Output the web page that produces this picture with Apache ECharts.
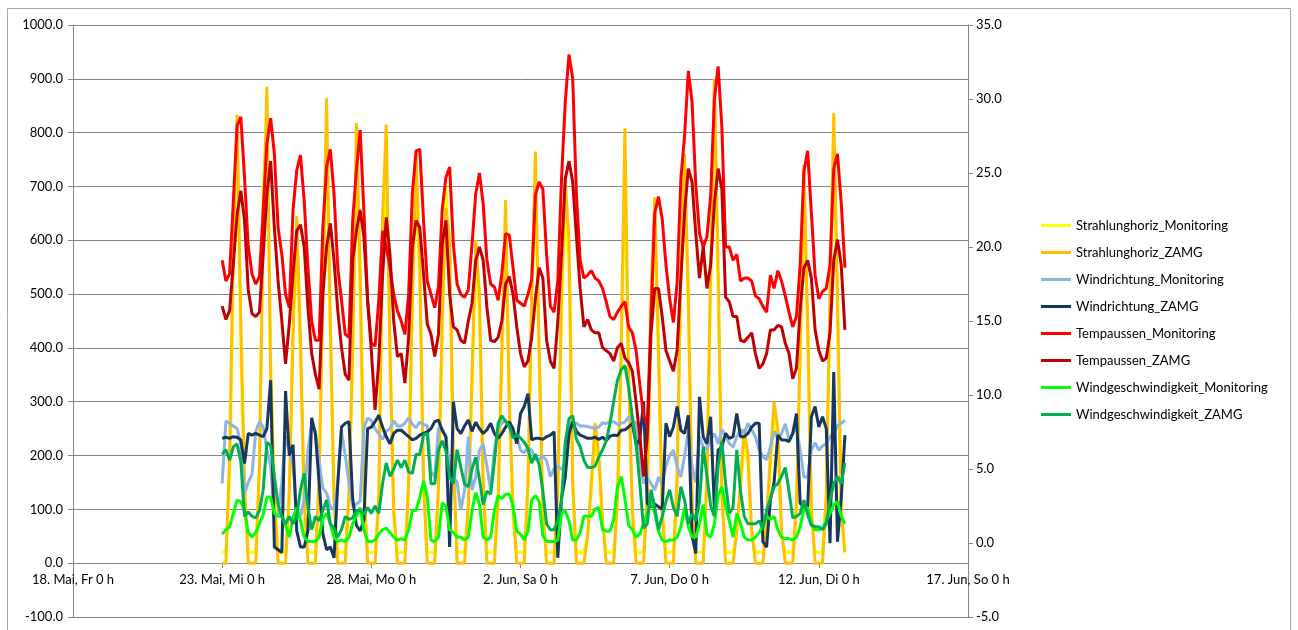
<!DOCTYPE html>
<html>
<head>
<meta charset="utf-8">
<script src="https://cdn.jsdelivr.net/npm/echarts@6.0.0/dist/echarts.min.js"></script>
<style>
  html, body { margin: 0; padding: 0; background: #fff; }
  #chart { width: 1298px; height: 630px; }
</style>
</head>
<body>
<div id="chart"></div>
<script>
// x axis: days since 18 May 0 h, one tick every 5 days
const xTickLabels = ["18. Mai, Fr 0 h", "23. Mai, Mi 0 h", "28. Mai, Mo 0 h", "2. Jun, Sa 0 h",
  "7. Jun, Do 0 h", "12. Jun, Di 0 h", "17. Jun, So 0 h"];
// samples every 3 h, starting 23 May 0 h
const startDay = 5;
const stepDay = 0.125;

const seriesNames = ["Strahlunghoriz_Monitoring", "Strahlunghoriz_ZAMG", "Windrichtung_Monitoring",
  "Windrichtung_ZAMG", "Tempaussen_Monitoring", "Tempaussen_ZAMG",
  "Windgeschwindigkeit_Monitoring", "Windgeschwindigkeit_ZAMG"];
const seriesColors = ["#FFFF00", "#FFC000", "#8DB4E2", "#17375E", "#FF0000", "#C00000", "#00FF00", "#00B050"];

// left axis (W/m², °)
const strahlungMonitoring = [
  20, 20, 150, 550, 780, 400, 120, 20,
  20, 20, 180, 700, 820, 380, 130, 20,
  20, 20, 120, 450, 580, 380, 100, 20,
  20, 20, 150, 500, 780, 420, 110, 20,
  20, 20, 120, 380, 740, 500, 120, 20,
  20, 20, 110, 560, 760, 380, 90, 20,
  20, 20, 140, 480, 700, 520, 140, 20,
  20, 20, 130, 420, 700, 560, 180, 20,
  20, 20, 100, 330, 580, 460, 140, 20,
  20, 20, 110, 380, 620, 300, 90, 20,
  20, 20, 140, 480, 700, 380, 90, 20,
  20, 20, 130, 470, 650, 560, 140, 20,
  20, 20, 50, 140, 230, 180, 70, 20,
  20, 20, 110, 380, 740, 330, 90, 20,
  20, 20, 120, 460, 620, 380, 90, 20,
  20, 20, 150, 520, 700, 470, 110, 20,
  20, 20, 150, 520, 820, 500, 120, 20,
  20, 20, 60, 140, 230, 180, 50, 20,
  20, 20, 80, 180, 270, 220, 50, 20,
  20, 20, 100, 380, 690, 420, 90, 20,
  20, 20, 120, 470, 780, 460, 90, 20
];
const strahlungZamg = [
  0, 0, 200, 600, 833, 450, 150, 0,
  0, 0, 180, 620, 885, 350, 120, 0,
  0, 0, 130, 420, 645, 420, 120, 0,
  0, 0, 160, 500, 864, 450, 120, 0,
  0, 0, 130, 400, 818, 550, 150, 0,
  0, 0, 120, 638, 815, 400, 100, 0,
  0, 0, 150, 500, 760, 550, 150, 0,
  0, 0, 140, 450, 660, 600, 200, 0,
  0, 0, 110, 350, 600, 500, 150, 0,
  0, 0, 120, 400, 675, 300, 100, 0,
  0, 0, 150, 500, 765, 400, 100, 0,
  0, 0, 140, 500, 712, 600, 150, 0,
  0, 0, 50, 150, 260, 200, 80, 0,
  0, 0, 120, 400, 808, 350, 100, 0,
  0, 0, 130, 500, 680, 400, 100, 0,
  0, 0, 160, 550, 760, 500, 120, 0,
  0, 0, 160, 550, 900, 550, 130, 0,
  0, 0, 60, 150, 250, 200, 60, 0,
  0, 0, 80, 200, 300, 250, 60, 0,
  0, 0, 110, 400, 740, 450, 100, 0,
  0, 0, 130, 500, 836, 500, 100, 20
];
const windrichtungMonitoring = [
  148, 264, 260, 255, 250, 222, 130, 150,
  165, 245, 263, 253, 210, 180, 86, 90,
  150, 235, 210, 180, 100, 86, 118, 210,
  258, 245, 190, 140, 130, 105, 100, 150,
  245, 200, 150, 105, 110, 115, 250, 270,
  265, 250, 240, 230, 245, 250, 265, 255,
  255, 260, 270, 258, 252, 262, 258, 255,
  170, 160, 251, 250, 235, 180, 160, 150,
  99, 135, 235, 136, 160, 210, 222, 180,
  136, 210, 252, 260, 266, 255, 235, 235,
  210, 205, 215, 210, 192, 192, 200, 190,
  161, 175, 180, 175, 180, 250, 263, 260,
  255, 255, 254, 252, 250, 253, 261, 259,
  263, 263, 258, 260, 262, 272, 265, 260,
  192, 148, 160, 148, 136, 160, 148, 180,
  200, 210, 180, 160, 200, 245, 180, 150,
  235, 216, 212, 230, 241, 222, 248, 238,
  222, 216, 235, 248, 241, 260, 248, 235,
  210, 198, 192, 216, 245, 232, 241, 259,
  230, 241, 253, 210, 160, 160, 210, 224,
  210, 218, 222, 235, 241, 255, 260, 266
];
const windrichtungZamg = [
  232, 234, 232, 235, 234, 229, 185, 241,
  238, 241, 238, 235, 250, 340, 30, 25,
  20, 320, 200, 220, 60, 30, 30, 60,
  270, 240, 150, 55, 25, 30, 10, 148,
  253, 260, 263, 120, 70, 60, 80, 250,
  253, 263, 275, 253, 235, 222, 241, 247,
  247, 241, 235, 229, 232, 238, 241, 244,
  250, 263, 266, 247, 235, 30, 300, 250,
  241, 255, 266, 245, 262, 250, 241, 248,
  260, 241, 232, 241, 253, 263, 250, 222,
  278, 291, 315, 229, 232, 232, 230, 235,
  238, 244, 10, 120, 160, 240, 263, 245,
  238, 235, 232, 232, 234, 230, 234, 228,
  236, 238, 237, 247, 248, 253, 260, 220,
  230, 300, 110, 105, 110, 105, 100, 260,
  235, 253, 291, 247, 241, 275, 50, 18,
  309, 235, 222, 272, 100, 210, 216, 241,
  232, 235, 278, 235, 235, 241, 253, 260,
  260, 40, 30, 117, 150, 238, 229, 229,
  226, 241, 278, 111, 105, 105, 272, 291,
  253, 272, 250, 37, 355, 40, 120, 238
];

// right axis (°C, m/s)
const tempMonitoring = [
  19.1, 17.7, 18.2, 23.1, 28.2, 28.8, 24.7, 20.0,
  18.2, 17.5, 18.0, 22.5, 27.0, 28.7, 26.3, 21.3,
  19.5, 16.8, 15.9, 22.5, 25.2, 26.2, 23.1, 18.6,
  15.0, 13.7, 13.7, 21.3, 25.4, 26.6, 23.6, 18.6,
  16.4, 14.1, 13.9, 21.8, 25.2, 27.9, 22.5, 16.4,
  13.5, 13.3, 16.4, 21.1, 20.0, 18.6, 16.8, 15.7,
  15.0, 14.1, 16.8, 23.6, 26.5, 26.6, 21.8, 17.7,
  16.8, 15.9, 17.3, 22.5, 24.7, 25.4, 20.2, 17.5,
  16.8, 16.6, 17.1, 20.2, 23.6, 25.0, 22.9, 19.1,
  17.5, 17.3, 16.4, 18.2, 20.9, 20.8, 18.6, 16.4,
  16.2, 16.0, 16.8, 17.8, 23.5, 24.4, 23.9, 19.5,
  16.0, 15.6, 17.7, 24.6, 29.8, 33.0, 31.4, 23.5,
  19.1, 17.9, 18.1, 18.4, 17.9, 17.7, 17.2, 16.3,
  15.3, 15.1, 15.6, 16.0, 16.3, 14.6, 14.2, 13.0,
  10.7, 8.6, 8.0, 15.3, 22.3, 23.4, 21.9, 18.8,
  16.5, 14.9, 17.6, 24.6, 27.5, 31.9, 29.8, 24.2,
  20.9, 20.0, 20.7, 23.5, 30.0, 32.2, 28.1, 20.0,
  20.0, 19.1, 19.5, 17.7, 17.9, 17.9, 17.7, 16.7,
  16.5, 16.0, 15.6, 18.1, 17.2, 18.4, 17.7, 16.7,
  15.6, 14.6, 15.3, 18.8, 25.1, 26.5, 22.3, 18.1,
  16.5, 17.0, 17.2, 18.8, 25.3, 26.3, 23.0, 18.6
];
const tempZamg = [
  16.0, 15.1, 15.7, 18.9, 22.2, 23.8, 21.8, 17.1,
  15.5, 15.3, 15.6, 19.5, 23.6, 25.8, 21.3, 17.7,
  15.0, 12.1, 14.8, 18.2, 21.1, 21.5, 20.0, 15.9,
  12.8, 11.4, 10.4, 16.8, 20.0, 21.6, 19.1, 15.7,
  13.2, 11.4, 11.0, 19.1, 21.1, 22.5, 20.7, 16.4,
  13.0, 9.0, 12.3, 18.0, 22.0, 19.5, 15.0, 12.6,
  12.8, 10.8, 13.9, 20.0, 21.8, 21.3, 18.2, 14.8,
  14.1, 12.6, 14.1, 20.2, 21.8, 16.8, 14.6, 14.4,
  13.7, 13.5, 15.0, 16.2, 19.1, 20.0, 19.1, 15.9,
  13.7, 13.6, 13.9, 15.0, 17.5, 18.0, 16.8, 14.6,
  12.8, 11.9, 12.3, 13.9, 16.5, 18.6, 17.9, 13.7,
  12.3, 11.8, 14.9, 19.5, 24.6, 25.8, 24.4, 20.7,
  17.2, 14.6, 15.1, 14.4, 14.2, 14.2, 13.2, 13.0,
  12.8, 12.3, 13.2, 13.5, 12.5, 12.2, 11.6, 9.5,
  7.2, 4.5, 7.2, 14.2, 17.2, 17.2, 15.3, 13.0,
  12.3, 11.6, 13.0, 17.9, 22.3, 25.3, 24.4, 20.9,
  17.9, 20.0, 17.2, 18.8, 23.0, 25.3, 23.9, 16.6,
  16.3, 15.3, 15.3, 13.7, 13.6, 13.9, 14.2, 12.8,
  11.8, 12.1, 12.8, 14.4, 14.4, 14.7, 14.6, 13.5,
  12.8, 11.1, 11.8, 15.8, 18.6, 19.1, 17.9, 14.4,
  13.0, 12.3, 12.5, 14.2, 19.1, 20.5, 18.8, 14.4
];
const windgeschwMonitoring = [
  0.6, 0.9, 1.1, 2.0, 2.9, 2.8, 2.2, 0.7,
  0.4, 0.7, 1.3, 1.9, 3.1, 3.1, 2.0, 1.8,
  1.8, 1.2, 0.4, 1.7, 2.4, 1.5, 0.4, 0.1,
  0.1, 0.1, 0.4, 1.7, 2.0, 1.3, 0.4, 0.1,
  0.2, 0.1, 0.4, 1.3, 1.8, 2.4, 0.9, 0.1,
  0.1, 0.2, 0.6, 0.9, 1.0, 0.7, 0.4, 0.2,
  0.3, 0.2, 0.9, 2.2, 2.2, 3.1, 4.2, 3.1,
  0.2, 0.1, 0.4, 2.7, 2.5, 0.9, 0.7, 0.4,
  0.4, 0.2, 0.4, 2.2, 3.4, 2.6, 0.4, 0.2,
  0.4, 2.2, 3.2, 3.0, 3.3, 3.3, 2.5, 0.8,
  0.6, 0.2, 0.8, 2.9, 3.2, 2.8, 0.5, 0.1,
  0.1, 0.1, 0.2, 2.0, 2.2, 1.5, 0.2, 0.2,
  0.7, 1.8, 1.8, 1.8, 2.3, 2.4, 0.9, 0.8,
  0.8, 1.6, 3.8, 4.5, 3.0, 1.2, 0.9, 0.4,
  0.6, 1.3, 2.0, 3.0, 2.0, 0.8, 0.2, 0.1,
  0.2, 0.2, 0.4, 1.1, 2.4, 1.1, 0.4, 0.4,
  1.3, 2.6, 0.6, 0.4, 1.3, 3.2, 3.8, 2.5,
  1.5, 0.4, 2.0, 1.3, 0.4, 0.2, 0.2, 0.4,
  0.7, 1.2, 1.8, 1.6, 1.8, 0.9, 0.4, 0.3,
  0.3, 0.2, 0.4, 1.1, 2.3, 2.4, 1.3, 0.9,
  0.9, 1.0, 1.5, 2.0, 2.6, 2.8, 1.8, 1.3
];
const windgeschwZamg = [
  6.0, 6.3, 5.6, 6.5, 6.7, 5.5, 1.8, 2.1,
  1.8, 1.7, 2.2, 3.6, 6.8, 6.6, 4.5, 2.6,
  1.8, 1.3, 1.8, 1.3, 1.8, 3.6, 4.7, 2.4,
  0.9, 1.8, 1.5, 2.2, 2.9, 1.3, 1.0, 0.4,
  0.9, 1.8, 1.6, 1.7, 2.2, 2.2, 1.9, 2.4,
  2.0, 2.5, 2.0, 4.0, 5.4, 4.5, 5.0, 5.6,
  5.1, 5.6, 4.8, 4.7, 6.0, 6.0, 7.3, 7.4,
  4.0, 4.0, 6.3, 6.9, 6.2, 4.5, 4.0, 6.3,
  5.1, 4.0, 3.8, 5.0, 5.8, 4.3, 2.6, 3.5,
  3.3, 5.5, 8.1, 8.6, 8.2, 7.9, 7.1, 7.3,
  7.1, 6.8, 6.4, 5.4, 6.0, 5.3, 3.5, 1.3,
  0.9, 0.9, 1.5, 2.9, 6.8, 8.4, 8.6, 7.0,
  6.5, 5.6, 5.1, 5.1, 5.2, 5.8, 6.3, 6.9,
  8.1, 9.6, 11.0, 11.7, 12.0, 10.5, 8.5, 6.7,
  4.0, 1.0, 1.3, 3.6, 2.4, 0.9, 1.8, 2.8,
  3.6, 2.4, 1.8, 3.8, 2.9, 1.3, 2.0, 1.5,
  2.8, 6.5, 4.5, 2.5, 1.8, 5.2, 6.9, 4.0,
  2.0, 2.4, 6.3, 3.5, 1.8, 1.3, 1.3, 1.3,
  1.5, 1.0, 2.2, 3.0, 3.8, 4.0, 4.5, 5.1,
  3.5, 1.7, 1.8, 2.0, 2.9, 1.9, 1.2, 1.1,
  1.1, 0.9, 1.3, 2.9, 4.0, 4.5, 4.0, 5.4
];

const seriesValues = [strahlungMonitoring, strahlungZamg, windrichtungMonitoring, windrichtungZamg,
  tempMonitoring, tempZamg, windgeschwMonitoring, windgeschwZamg];
const seriesAxis = [0, 0, 0, 0, 1, 1, 1, 1];

const font = "Lato, 'Liberation Sans', sans-serif";
const gridGray = "#868686";

// plot area (pixels) and left axis range; the x axis sits on the 0 line of the left axis
const gridTop = 25, gridBottom = 13, chartHeight = 630;
const leftMin = -100, leftMax = 1000;
const plotHeight = chartHeight - gridTop - gridBottom;
const xAxisOffset = -plotHeight * (0 - leftMin) / (leftMax - leftMin);

const chart = echarts.init(document.getElementById("chart"));

const option = {
  animation: false,
  backgroundColor: "#fff",
  graphic: [{
    type: "rect",
    silent: true,
    shape: { x: 7.5, y: 8.5, width: 1283, height: 640 },
    style: { fill: "none", stroke: "#a6a6a6", lineWidth: 1 },
  }],
  grid: {
    left: 73, right: 330, top: gridTop, bottom: gridBottom,
    containLabel: false, outerBoundsMode: "none",
  },
  legend: {
    orient: "vertical",
    left: 1041,
    top: 219,
    icon: "rect",
    itemWidth: 30,
    itemHeight: 3,
    itemGap: 14,
    padding: 0,
    data: seriesNames,
    textStyle: { fontFamily: font, fontSize: 13, color: "#000" },
  },
  xAxis: {
    type: "value",
    min: 0,
    max: 30,
    interval: 5,
    position: "bottom",
    offset: xAxisOffset,
    axisLine: { onZero: false, lineStyle: { color: gridGray } },
    axisTick: { show: true, length: 5, lineStyle: { color: gridGray } },
    splitLine: { show: false },
    axisLabel: {
      fontFamily: font, fontSize: 13, color: "#000", margin: 10,
      showMinLabel: true, showMaxLabel: true,
      formatter: (v) => xTickLabels[Math.round(v / 5)] || "",
    },
  },
  yAxis: [
    {
      type: "value",
      min: leftMin,
      max: leftMax,
      interval: 100,
      axisLine: { show: true, onZero: false, lineStyle: { color: gridGray } },
      axisTick: { show: true, length: 5, lineStyle: { color: gridGray } },
      splitLine: { show: true, lineStyle: { color: gridGray, width: 1 } },
      axisLabel: { fontFamily: font, fontSize: 13, color: "#000", margin: 10, formatter: (v) => v.toFixed(1) },
    },
    {
      type: "value",
      min: -5,
      max: 35,
      interval: 5,
      position: "right",
      axisLine: { show: true, onZero: false, lineStyle: { color: gridGray } },
      axisTick: { show: true, length: 5, lineStyle: { color: gridGray } },
      splitLine: { show: false },
      axisLabel: { fontFamily: font, fontSize: 13, color: "#000", margin: 8, formatter: (v) => v.toFixed(1) },
    },
  ],
  series: seriesNames.map((name, k) => ({
    name,
    type: "line",
    yAxisIndex: seriesAxis[k],
    data: seriesValues[k].map((v, i) => [startDay + i * stepDay, v]),
    showSymbol: false,
    symbol: "none",
    color: seriesColors[k],
    lineStyle: { width: 3, color: seriesColors[k] },
  })),
};

chart.setOption(option);
</script>
</body>
</html>
